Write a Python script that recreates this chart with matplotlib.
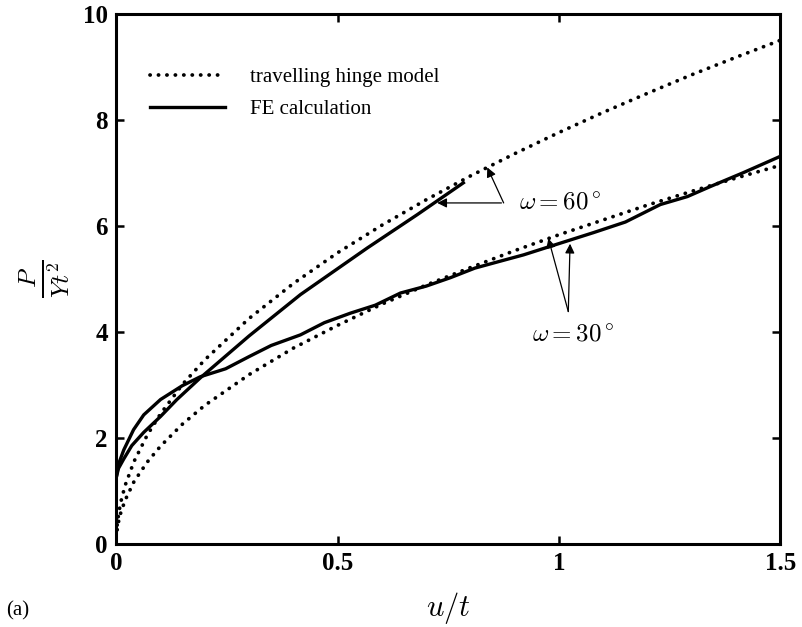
import matplotlib
matplotlib.use("Agg")
import matplotlib.pyplot as plt

plt.rcParams['font.family'] = ['Liberation Serif', 'DejaVu Serif']
plt.rcParams['mathtext.fontset'] = 'cm'

# travelling hinge model (dotted)
u_model = [0.002, 0.005, 0.01, 0.02, 0.04, 0.07, 0.1, 0.15, 0.2, 0.3, 0.4, 0.5,
           0.6, 0.7, 0.8, 0.9, 1.0, 1.1, 1.2, 1.3, 1.4, 1.5]
p_model_60 = [0.35, 0.55, 0.78, 1.10, 1.55, 2.05, 2.45, 3.01, 3.47, 4.25, 4.91, 5.49,
              6.01, 6.49, 6.94, 7.36, 7.76, 8.14, 8.50, 8.85, 9.18, 9.50]
p_model_30 = [0.26, 0.41, 0.58, 0.82, 1.17, 1.54, 1.84, 2.26, 2.61, 3.19, 3.69, 4.12,
              4.52, 4.88, 5.21, 5.53, 5.83, 6.11, 6.39, 6.65, 6.90, 7.14]

# FE calculation (solid)
u_fe_60 = [0, 0.005, 0.017, 0.035, 0.062, 0.1, 0.137, 0.19, 0.3, 0.416, 0.567, 0.68, 0.784]
p_fe_60 = [1.25, 1.42, 1.60, 1.85, 2.10, 2.40, 2.72, 3.13, 3.92, 4.70, 5.58, 6.21, 6.81]

u_fe_30 = [0, 0.005, 0.017, 0.039, 0.062, 0.1, 0.149, 0.19, 0.247, 0.3, 0.35, 0.416,
           0.47, 0.529, 0.585, 0.642, 0.7, 0.755, 0.81, 0.867, 0.92, 0.98, 1.078,
           1.15, 1.229, 1.29, 1.342, 1.416, 1.5]
p_fe_30 = [1.25, 1.50, 1.77, 2.15, 2.43, 2.72, 2.98, 3.15, 3.30, 3.53, 3.74, 3.94,
           4.17, 4.35, 4.50, 4.73, 4.86, 5.02, 5.20, 5.33, 5.45, 5.61, 5.87,
           6.07, 6.40, 6.55, 6.74, 7.00, 7.31]

fig = plt.figure(figsize=(8.02, 6.27), dpi=100)
ax = fig.add_axes([0.145, 0.133, 0.828, 0.845])

dots = (0, (0.05, 2.2))
ax.plot(u_model, p_model_60, color='k', lw=2.7, ls=dots, dash_capstyle='round',
        label='travelling hinge model')
ax.plot(u_fe_60, p_fe_60, color='k', lw=2.4, label='FE calculation')
ax.plot(u_model, p_model_30, color='k', lw=2.7, ls=dots, dash_capstyle='round')
ax.plot(u_fe_30, p_fe_30, color='k', lw=2.4)

ax.set_xlim(0, 1.5)
ax.set_ylim(0, 10)
ax.set_xticks([0, 0.5, 1, 1.5])
ax.set_xticklabels(['0', '0.5', '1', '1.5'])
ax.set_yticks([0, 2, 4, 6, 8, 10])
ax.tick_params(direction='in', length=6, width=1.8, top=True, right=True,
               labelsize=18, pad=6)
for lab in ax.get_xticklabels() + ax.get_yticklabels():
    lab.set_fontweight('bold')
for s in ax.spines.values():
    s.set_linewidth(2.2)

ax.set_xlabel(r'$u/t$', fontsize=22, labelpad=11)
ax.set_ylabel(r'$\frac{P}{Yt^2}$', fontsize=26, labelpad=8)
fig.text(0.008, 0.018, '(a)', fontsize=15)

leg = ax.legend(loc='upper left', bbox_to_anchor=(0.0, 0.962), frameon=False,
                fontsize=15, handlelength=3.6, borderaxespad=1.2,
                labelspacing=0.6, handletextpad=1.2)

arrow = dict(arrowstyle='-|>', color='k', lw=0.9, mutation_scale=14, shrinkA=0, shrinkB=0)
# omega = 60 deg
ax.annotate('', xy=(0.725, 6.43), xytext=(0.87, 6.43), arrowprops=arrow)
ax.annotate('', xy=(0.838, 7.10), xytext=(0.875, 6.43), arrowprops=arrow)
ax.text(0.91, 6.43, r'$\omega = 60^\circ$', fontsize=18, va='center', ha='left')
# omega = 30 deg
ax.annotate('', xy=(0.976, 5.76), xytext=(1.021, 4.38), arrowprops=arrow)
ax.annotate('', xy=(1.025, 5.66), xytext=(1.021, 4.38), arrowprops=arrow)
ax.text(1.033, 3.94, r'$\omega = 30^\circ$', fontsize=18, va='center', ha='center')

fig.savefig('out.png', dpi=100)
